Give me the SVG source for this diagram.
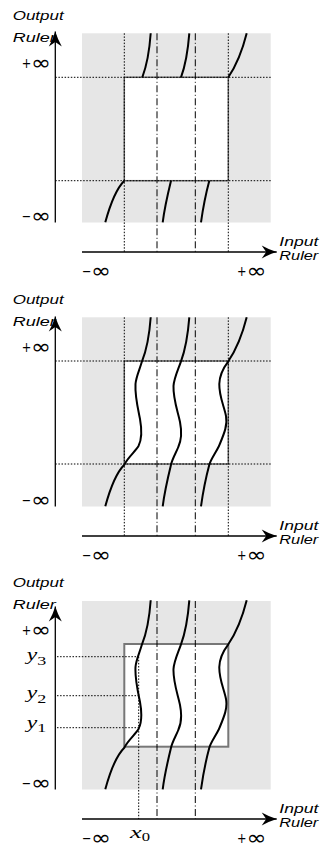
<svg xmlns="http://www.w3.org/2000/svg" width="323" height="849" viewBox="0 0 323 849">
<style>
.bg{fill:#e6e6e6}
.box{fill:#fff;stroke:#666;stroke-width:1.5}
.box3{fill:#fff;stroke:#777;stroke-width:2}
.dot{stroke:#000;stroke-width:1;stroke-dasharray:1.5 1.6;fill:none}
.dd{stroke:#000;stroke-width:1;stroke-dasharray:7 2.5 1 2.5;fill:none}
.ax{stroke:#000;stroke-width:1.3;fill:none}
.cv{stroke:#000;stroke-width:2;fill:none}
.lab{font-family:"Liberation Sans",Arial,sans-serif;font-style:italic;font-size:12px;fill:#000}
.sg{font-family:"DejaVu Sans","Liberation Sans",sans-serif;font-size:14px;fill:#000}
.inf{font-family:"DejaVu Sans","Liberation Sans",sans-serif;font-size:21px;fill:#000}
.math{font-family:"Liberation Serif","Times New Roman",serif;font-style:italic;font-size:17px;fill:#000}
.sub{font-family:"Liberation Serif","Times New Roman",serif;font-size:13px;fill:#000}
</style>
<defs>
<marker id="arr" markerUnits="userSpaceOnUse" viewBox="-16 -8 17 16" refX="0" refY="0" markerWidth="17" markerHeight="16" orient="auto">
<path d="M0,0 Q-8,-2.5 -15,-6.5 L-10.5,0 L-15,6.5 Q-8,2.5 0,0 Z" fill="#000"/>
</marker>
<path id="cA" d="M150.7,33.3 C149.5,50 147,65 142,77.3 C139.5,86 136,93 135.5,100 C134.8,112 138,125 140,135 C142,146 142,155 138.5,162 C135,168 128,173 124.3,180.7 C117,188 110,205 105.3,222.3"/>
<path id="cB" d="M189.3,33.3 C188,50 185.5,65 181,77.3 C178,86 174,94 173.5,102 C173,115 178,128 180,138 C182,148 181,157 178.3,163 C176,169 172.5,174 171,180.7 C168,193 164.5,208 162.7,222.3"/>
<path id="cC" d="M246.7,33.3 C243,48 236,66 228.3,77.3 C224,83 219.5,90 219.3,100 C219,112 224,122 226,132 C228,142 223,152 219,162 C215,170 211,175 209.3,180.7 C206,193 203,208 201,222.3"/>
<g id="inflabels">
<text class="lab" x="279.3" y="246.3" textLength="39" lengthAdjust="spacingAndGlyphs">Input</text>
<text class="lab" x="279.3" y="260" textLength="39" lengthAdjust="spacingAndGlyphs">Ruler</text>
<text class="sg" x="21.7" y="67.5" textLength="9.5" lengthAdjust="spacingAndGlyphs">+</text>
<text class="inf" x="31" y="69.5" textLength="20" lengthAdjust="spacingAndGlyphs">∞</text>
<text class="sg" x="21.7" y="220.5" textLength="9.5" lengthAdjust="spacingAndGlyphs">−</text>
<text class="inf" x="31" y="222.5" textLength="20" lengthAdjust="spacingAndGlyphs">∞</text>
<text class="sg" x="82" y="276" textLength="9.5" lengthAdjust="spacingAndGlyphs">−</text>
<text class="inf" x="91" y="278" textLength="20" lengthAdjust="spacingAndGlyphs">∞</text>
<text class="sg" x="237" y="276" textLength="9.5" lengthAdjust="spacingAndGlyphs">+</text>
<text class="inf" x="246.5" y="278" textLength="20" lengthAdjust="spacingAndGlyphs">∞</text>
</g>
</defs>

<!-- Panel 1 -->
<g id="panel1">
<rect class="bg" x="82" y="33.3" width="188.7" height="189.2"/>
<rect class="box" x="124.3" y="77.3" width="104" height="103.4"/>
<g id="curves1" class="cv">
<path d="M150.7,33.3 C149.5,50 147,65 142.3,77.3"/>
<path d="M189.3,33.3 C188,50 185.5,65 181,77.3"/>
<path d="M246.7,33.3 C243,48 236,66 228.3,77.3"/>
<path d="M124.3,180.7 C117,188 110,205 105.3,222.3"/>
<path d="M171,180.7 C168,193 164.5,208 162.7,222.3"/>
<path d="M209.3,180.7 C206,193 203,208 201,222.3"/>
</g>
<g id="guides1">
<path class="dot" d="M55.3,77.3 H270.7 M55.3,180.7 H270.7 M124.3,33.3 V252 M228.3,33.3 V252"/>
<path class="dd" d="M157,33.3 V252 M195.3,33.3 V252"/>
</g>
<g id="axes1">
<path class="ax" d="M55.3,222.5 V31.5" marker-end="url(#arr)"/>
<path class="ax" d="M82,252 H276.7" marker-end="url(#arr)"/>
</g>
<g id="labels1">
<text class="lab" x="12.7" y="20" textLength="51" lengthAdjust="spacingAndGlyphs">Output</text>
<text class="lab" x="12.7" y="41.7" textLength="43" lengthAdjust="spacingAndGlyphs">Ruler</text>
<use href="#inflabels"/>
</g>
</g>

<!-- Panel 2 -->
<g id="panel2" transform="translate(0,284)">
<rect class="bg" x="82" y="33.3" width="188.7" height="189.2"/>
<rect class="box" x="124.3" y="77" width="104" height="103"/>
<g id="curves2" class="cv">
<use href="#cA"/>
<use href="#cB"/>
<use href="#cC"/>
</g>
<g id="guides2">
<path class="dot" d="M55.3,77 H270.7 M55.3,180 H270.7 M124.3,33.3 V252 M228.3,33.3 V252"/>
<path class="dd" d="M157,33.3 V252 M195.3,33.3 V252"/>
</g>
<g id="axes2">
<path class="ax" d="M55.3,222.5 V32.5" marker-end="url(#arr)"/>
<path class="ax" d="M82,252 H276.7" marker-end="url(#arr)"/>
</g>
<g id="labels2">
<text class="lab" x="12.7" y="20" textLength="51" lengthAdjust="spacingAndGlyphs">Output</text>
<text class="lab" x="12.7" y="41.7" textLength="43" lengthAdjust="spacingAndGlyphs">Ruler</text>
<use href="#inflabels"/>
</g>
</g>

<!-- Panel 3 -->
<g id="panel3" transform="translate(0,567)">
<rect class="bg" x="82" y="34" width="188.7" height="188.5"/>
<rect class="box3" x="124.3" y="77" width="104" height="102.7"/>
<g id="guides3">
<path class="dot" d="M57,89.7 H138 M57,128.7 H138 M57,160.7 H138 M138.7,89.7 V252"/>
<path class="dd" d="M157,34 V252 M195.3,34 V252"/>
</g>
<g id="curves3" class="cv">
<use href="#cA"/>
<use href="#cB"/>
<use href="#cC"/>
</g>
<g id="axes3">
<path class="ax" d="M55.3,222.5 V39.5" marker-end="url(#arr)"/>
<path class="ax" d="M82,252 H276.7" marker-end="url(#arr)"/>
</g>
<g id="labels3">
<text class="lab" x="12.7" y="20" textLength="51" lengthAdjust="spacingAndGlyphs">Output</text>
<text class="lab" x="12.7" y="42" textLength="43" lengthAdjust="spacingAndGlyphs">Ruler</text>
<use href="#inflabels"/>
<text class="math" x="26.7" y="93" textLength="10.5" lengthAdjust="spacingAndGlyphs">y</text>
<text class="sub" x="37.3" y="97.5" textLength="9" lengthAdjust="spacingAndGlyphs">3</text>
<text class="math" x="26.7" y="131" textLength="10.5" lengthAdjust="spacingAndGlyphs">y</text>
<text class="sub" x="37.3" y="135.5" textLength="9" lengthAdjust="spacingAndGlyphs">2</text>
<text class="math" x="26.7" y="160.5" textLength="10.5" lengthAdjust="spacingAndGlyphs">y</text>
<text class="sub" x="37.3" y="165" textLength="9" lengthAdjust="spacingAndGlyphs">1</text>
<text class="math" x="130" y="271" textLength="11.7" lengthAdjust="spacingAndGlyphs">x</text>
<text class="sub" x="141.7" y="273.5" textLength="8.3" lengthAdjust="spacingAndGlyphs">0</text>
</g>
</g>
</svg>
